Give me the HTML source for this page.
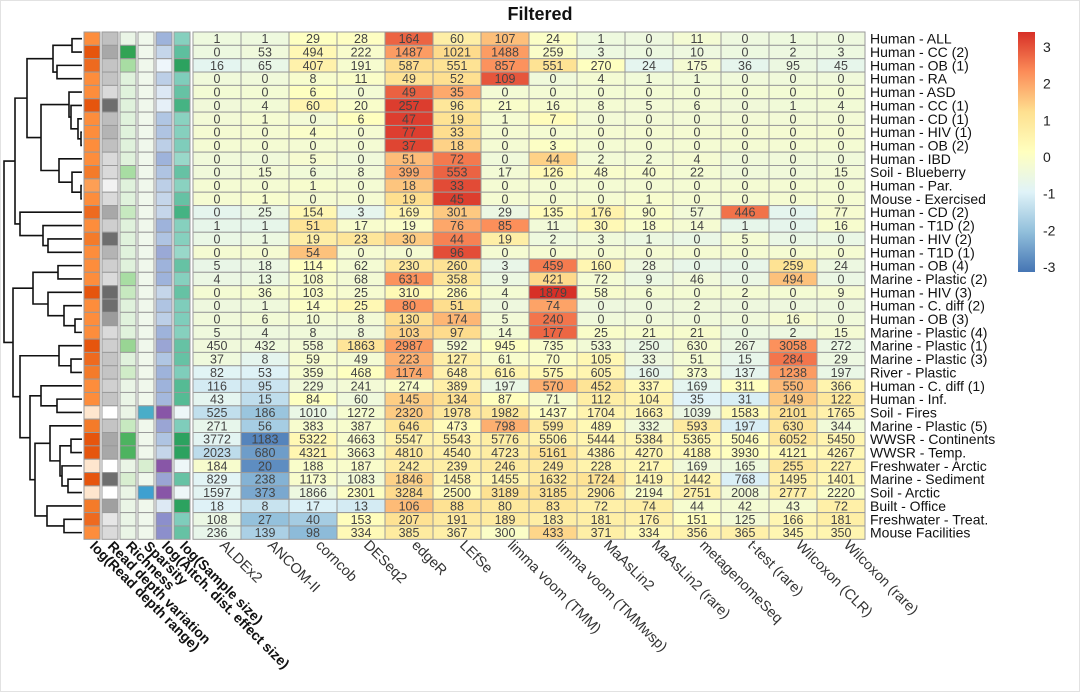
<!DOCTYPE html>
<html><head><meta charset="utf-8"><style>
html,body{margin:0;padding:0;background:#fff}
svg{display:block;font-family:"Liberation Sans",Arial,sans-serif}
</style></head><body>
<svg id="chart" width="1080" height="692" viewBox="0 0 1080 692">
<rect x="0.5" y="0.5" width="1079" height="691" fill="#fff" stroke="#e2e2e2"/>
<text x="540" y="20" text-anchor="middle" font-size="18" font-weight="bold" fill="#111">Filtered</text>
<g id="dendro"></g>
<g id="annot"></g>
<g id="cells"></g>
<g id="rowlabels"></g>
<g id="collabels"></g>
<g id="legend"></g>
</svg>
<script>
const methods = ["ALDEx2","ANCOM-II","corncob","DESeq2","edgeR","LEfSe","limma voom (TMM)","limma voom (TMMwsp)","MaAsLin2","MaAsLin2 (rare)","metagenomeSeq","t-test (rare)","Wilcoxon (CLR)","Wilcoxon (rare)"];
const datasets = ["Human - ALL","Human - CC (2)","Human - OB (1)","Human - RA","Human - ASD","Human - CC (1)","Human - CD (1)","Human - HIV (1)","Human - OB (2)","Human - IBD","Soil - Blueberry","Human - Par.","Mouse - Exercised","Human - CD (2)","Human - T1D (2)","Human - HIV (2)","Human - T1D (1)","Human - OB (4)","Marine - Plastic (2)","Human - HIV (3)","Human - C. diff (2)","Human - OB (3)","Marine - Plastic (4)","Marine - Plastic (1)","Marine - Plastic (3)","River - Plastic","Human - C. diff (1)","Human - Inf.","Soil - Fires","Marine - Plastic (5)","WWSR - Continents","WWSR - Temp.","Freshwater - Arctic","Marine - Sediment","Soil - Arctic","Built - Office","Freshwater - Treat.","Mouse Facilities"];
const counts = [
[1,1,29,28,164,60,107,24,1,0,11,0,1,0],
[0,53,494,222,1487,1021,1488,259,3,0,10,0,2,3],
[16,65,407,191,587,551,857,551,270,24,175,36,95,45],
[0,0,8,11,49,52,109,0,4,1,1,0,0,0],
[0,0,6,0,49,35,0,0,0,0,0,0,0,0],
[0,4,60,20,257,96,21,16,8,5,6,0,1,4],
[0,1,0,6,47,19,1,7,0,0,0,0,0,0],
[0,0,4,0,77,33,0,0,0,0,0,0,0,0],
[0,0,0,0,37,18,0,3,0,0,0,0,0,0],
[0,0,5,0,51,72,0,44,2,2,4,0,0,0],
[0,15,6,8,399,553,17,126,48,40,22,0,0,15],
[0,0,1,0,18,33,0,0,0,0,0,0,0,0],
[0,1,0,0,19,45,0,0,0,1,0,0,0,0],
[0,25,154,3,169,301,29,135,176,90,57,446,0,77],
[1,1,51,17,19,76,85,11,30,18,14,1,0,16],
[0,1,19,23,30,44,19,2,3,1,0,5,0,0],
[0,0,54,0,0,96,0,0,0,0,0,0,0,0],
[5,18,114,62,230,260,3,459,160,28,0,0,259,24],
[4,13,108,68,631,358,9,421,72,9,46,0,494,0],
[0,36,103,25,310,286,4,1879,58,6,0,2,0,9],
[0,1,14,25,80,51,0,74,0,0,2,0,0,0],
[0,6,10,8,130,174,5,240,0,0,0,0,16,0],
[5,4,8,8,103,97,14,177,25,21,21,0,2,15],
[450,432,558,1863,2987,592,945,735,533,250,630,267,3058,272],
[37,8,59,49,223,127,61,70,105,33,51,15,284,29],
[82,53,359,468,1174,648,616,575,605,160,373,137,1238,197],
[116,95,229,241,274,389,197,570,452,337,169,311,550,366],
[43,15,84,60,145,134,87,71,112,104,35,31,149,122],
[525,186,1010,1272,2320,1978,1982,1437,1704,1663,1039,1583,2101,1765],
[271,56,383,387,646,473,798,599,489,332,593,197,630,344],
[3772,1183,5322,4663,5547,5543,5776,5506,5444,5384,5365,5046,6052,5450],
[2023,680,4321,3663,4810,4540,4723,5161,4386,4270,4188,3930,4121,4267],
[184,20,188,187,242,239,246,249,228,217,169,165,255,227],
[829,238,1173,1083,1846,1458,1455,1632,1724,1419,1442,768,1495,1401],
[1597,373,1866,2301,3284,2500,3189,3185,2906,2194,2751,2008,2777,2220],
[18,8,17,13,106,88,80,83,72,74,44,42,43,72],
[108,27,40,153,207,191,189,183,181,176,151,125,166,181],
[236,139,98,334,385,367,300,433,371,334,356,365,345,350]];
const annotNames = ["log(Read depth range)","Read depth variation","Richness","Sparsity","log(Aitch. dist. effect size)","log(Sample size)"];
const annotCol1 = ["#FD8D3C","#E6550D","#EE6A1F","#FD8D3C","#FD8D3C","#E6550D","#FD8D3C","#FD8D3C","#FD8D3C","#FD8D3C","#F47B2A","#FD9F55","#FD8D3C","#EE6A1F","#FD8D3C","#F47B2A","#FD8D3C","#FD8D3C","#FD8D3C","#E6550D","#FD8D3C","#FD8D3C","#FD8D3C","#E6550D","#EE6A1F","#F47B2A","#FD8D3C","#FD8D3C","#FEE6CE","#F47B2A","#E6550D","#E6550D","#FEE6CE","#E6550D","#FEE6CE","#F47B2A","#EE6A1F","#FD8D3C"];
const annotCol2 = ["#C0C0C0","#A8A8A8","#C4C4C4","#C4C4C4","#DADADA","#6E6E6E","#BDBDBD","#B4B4B4","#C0C0C0","#DADADA","#DADADA","#F2F2F2","#DADADA","#A8A8A8","#CFCFCF","#6E6E6E","#B4B4B4","#CFCFCF","#DADADA","#6A6A6A","#6E6E6E","#9C9C9C","#DADADA","#CFCFCF","#C4C4C4","#C4C4C4","#D0D0D0","#C4C4C4","#FFFFFF","#C4C4C4","#A8A8A8","#A8A8A8","#FFFFFF","#6E6E6E","#FFFFFF","#A0A0A0","#E6E6E6","#DADADA"];
const annotCol3 = ["#EAF5E6","#31A354","#A8DDA3","#E0F2DC","#E0F2DC","#E0F2DC","#E0F2DC","#E0F2DC","#E0F2DC","#E0F2DC","#A8DDA3","#E0F2DC","#E0F2DC","#C7E9C0","#E0F2DC","#E0F2DC","#E0F2DC","#E0F2DC","#A8DDA3","#C7E9C0","#E0F2DC","#E0F2DC","#E0F2DC","#99D594","#E0F2DC","#D0ECC8","#EAF5E6","#EAF5E6","#EAF5E6","#C7E9C0","#4DB360","#4DB360","#EAF5E6","#D8EED0","#EAF5E6","#EAF5E6","#EAF5E6","#EAF5E6"];
const annotCol4 = ["#F0F8EC","#F0F8EC","#F0F8EC","#F0F8EC","#F0F8EC","#F0F8EC","#F0F8EC","#F0F8EC","#F0F8EC","#F0F8EC","#F0F8EC","#F0F8EC","#F0F8EC","#F0F8EC","#F0F8EC","#F0F8EC","#F0F8EC","#F0F8EC","#F0F8EC","#F0F8EC","#F0F8EC","#F0F8EC","#F0F8EC","#F0F8EC","#F0F8EC","#F0F8EC","#F0F8EC","#F0F8EC","#4AADC8","#F0F8EC","#F0F8EC","#F0F8EC","#D8EED0","#F0F8EC","#3FA0D0","#F0F8EC","#F0F8EC","#F0F8EC"];
const annotCol5 = ["#9EB3DB","#C5D6EA","#EEF6FB","#BCCFE7","#DCE8F4","#E6F0F8","#B0C6E3","#AFC4E2","#BCCFE7","#9EB3DB","#AFC4E2","#BCCFE7","#C5D6EA","#C5D6EA","#9EB3DB","#AFC4E2","#9AA9D6","#9EB3DB","#9EB3DB","#C5D6EA","#AFC4E2","#BCCFE7","#9EB3DB","#9AA5D4","#B0C6E3","#9EB3DB","#9EB3DB","#A4B8DD","#8856A7","#9AA5D4","#AFC4E2","#C5D6EA","#8856A7","#9AA5D4","#8856A7","#DDE9F4","#8C8FCC","#8C8FCC"];
const annotCol6 = ["#86D0BE","#5EBF9E","#2CA25F","#7FCDBB","#66C2A4","#45B383","#8AD2C0","#86D0BE","#7FCDBB","#99D8C9","#66C2A4","#8AD2C0","#66C2A4","#45B383","#86D0BE","#86D0BE","#99D8C9","#66C2A4","#86D0BE","#66C2A4","#7FCDBB","#7FCDBB","#86D0BE","#66C2A4","#66C2A4","#7FCDBB","#55BB94","#55BB94","#EEF7F8","#7FCDBB","#2CA25F","#2CA25F","#EEF7F8","#66C2A4","#EEF7F8","#2CA25F","#7FCDBB","#66C2A4"];
const legendTicks = [3,2,1,0,-1,-2,-3];
// dendrogram: [height(x px), left, right]; leaves are row indices
const tree = [4,
  [15,
    [27,
      [53,[72,0,1],[57,2,3]],
      [41,[69,4,[71,5,[78,6,[81,7,8]]]],[59,9,[72,10,[81,11,12]]]]],
    [20,13,[43,14,[48,15,16]]]],
  [13,
    [33,[58,17,18],[48,19,[64,20,[75,21,22]]]],
    [20,[59,23,[71,24,25]],
      [30,[41,26,[57,27,28]],
        [35,[50,29,[60,[71,30,31],[62,32,[68,33,34]]]],[47,35,[64,36,37]]]]]]];

const NS="http://www.w3.org/2000/svg";
const X0=193, CW=48, Y0=32, RH=13.35, LEAFX=82;
const palette=["#4575B4","#91BFDB","#E0F3F8","#FFFFBF","#FEE090","#FC8D59","#D73027"];
const ZMAX=3.35;
function xScale(c){return X0+c*CW;}
function yScale(r){return Y0+r*RH;}
function hex(h){return [1,3,5].map(i=>parseInt(h.substr(i,2),16));}
function colorOf(z){
  let t=(Math.max(-ZMAX,Math.min(ZMAX,z))+ZMAX)/(2*ZMAX)*(palette.length-1);
  let i=Math.min(palette.length-2,Math.floor(t)),f=t-i;
  const a=hex(palette[i]),b=hex(palette[i+1]);
  return "rgb("+a.map((v,k)=>Math.round(v+(b[k]-v)*f)).join(",")+")";
}
function mk(tag,attrs,parent){const e=document.createElementNS(NS,tag);for(const k in attrs)e.setAttribute(k,attrs[k]);parent.appendChild(e);return e;}

const cellsG=document.getElementById("cells");
counts.forEach((row,r)=>{
  const n=row.length, m=row.reduce((a,b)=>a+b,0)/n;
  const sd=Math.sqrt(row.reduce((a,b)=>a+(b-m)*(b-m),0)/(n-1))||1;
  row.forEach((v,c)=>{
    const rc=mk("rect",{x:xScale(c),y:yScale(r),width:CW,height:RH,fill:colorOf((v-m)/sd),stroke:"#9a9a9a","stroke-width":1},cellsG);
    
    
    const t=mk("text",{x:xScale(c)+CW/2,y:yScale(r)+RH/2+4.5,"text-anchor":"middle","font-size":12.5,fill:"#444"},cellsG);
    t.textContent=v;
    
    
  });
});

const annotG=document.getElementById("annot");
const annotCols=[annotCol1,annotCol2,annotCol3,annotCol4,annotCol5,annotCol6];
annotCols.forEach((col,a)=>{
  col.forEach((fill,r)=>{
    const rc=mk("rect",{x:84+a*18,y:yScale(r),width:16,height:RH,fill:fill,stroke:"#9a9a9a","stroke-width":1},annotG);
    
    
  });
  const t=mk("text",{transform:"translate("+(89+a*18)+",547) rotate(45)","font-size":14,"font-weight":"bold",fill:"#111"},annotG);
  t.textContent=annotNames[a];
  
  
});

const rl=document.getElementById("rowlabels");
datasets.forEach((d,r)=>{
  const t=mk("text",{x:870,y:yScale(r)+RH/2+5,"font-size":14,fill:"#111"},rl);
  t.textContent=d;
  
  
});
const cl=document.getElementById("collabels");
methods.forEach((mth,c)=>{
  const t=mk("text",{transform:"translate("+(xScale(c)+CW/2+2)+",546) rotate(45)","font-size":14.5,fill:"#333"},cl);
  t.textContent=mth;
  
  
});

const dg=document.getElementById("dendro");
function draw(node){
  if(typeof node==="number") return {x:LEAFX,y:yScale(node)+RH/2};
  const h=node[0], l=draw(node[1]), r=draw(node[2]);
  const p=mk("path",{d:"M"+l.x+","+l.y+"H"+h+"V"+r.y+"H"+r.x,fill:"none",stroke:"#111","stroke-width":1.6},dg);
  
  
  return {x:h,y:(l.y+r.y)/2};
}
draw(tree);

const lg=document.getElementById("legend");
const defs=mk("defs",{},lg);
const grad=mk("linearGradient",{id:"lgrad",x1:0,y1:0,x2:0,y2:1},defs);
palette.slice().reverse().forEach((c,i)=>mk("stop",{offset:(i/(palette.length-1)),"stop-color":c},grad));
const bar=mk("rect",{x:1018,y:32,width:17,height:240,fill:"url(#lgrad)"},lg);


legendTicks.forEach(v=>{
  const y=157-v*36.7;
  const t=mk("text",{x:1043,y:y+5,"font-size":14,fill:"#222"},lg);
  t.textContent=v;
  
  
});
</script>
</body></html>
